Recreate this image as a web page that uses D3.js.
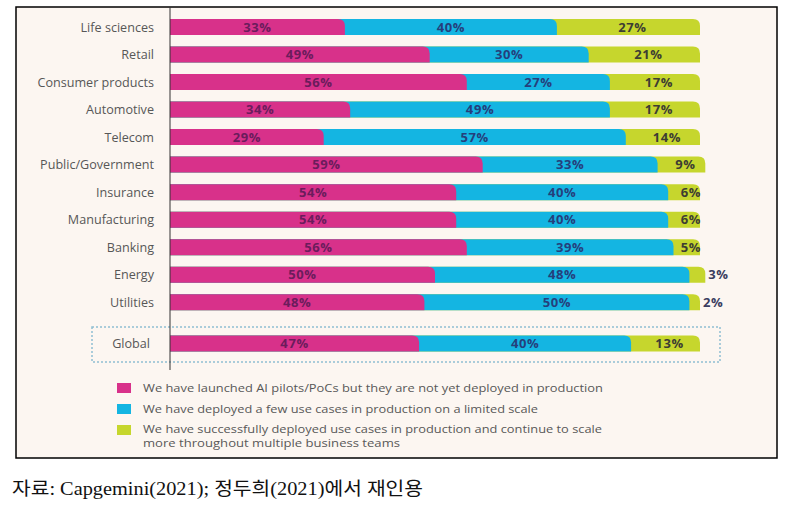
<!DOCTYPE html>
<html>
<head>
<meta charset="utf-8">
<script src="https://cdn.jsdelivr.net/npm/d3@7"></script>
<style>
  html, body { margin: 0; padding: 0; background: #ffffff; }
  svg { display: block; }
</style>
</head>
<body>
<svg id="chart" width="788" height="510"></svg>
<script>
// ---- data ----
const categories = ["Life sciences", "Retail", "Consumer products", "Automotive", "Telecom",
  "Public/Government", "Insurance", "Manufacturing", "Banking", "Energy", "Utilities", "Global"];
const pilots   = [33, 49, 56, 34, 29, 59, 54, 54, 56, 50, 48, 47];
const limited  = [40, 30, 27, 49, 57, 33, 40, 40, 39, 48, 50, 40];
const scaled   = [27, 21, 17, 17, 14,  9,  6,  6,  5,  3,  2, 13];
const rowIndex = [0, 1, 2, 3, 4, 5, 6, 7, 8, 9, 10, 11.5];
const legendLabels = [
  ["We have launched AI pilots/PoCs but they are not yet deployed in production"],
  ["We have deployed a few use cases in production on a limited scale"],
  ["We have successfully deployed use cases in production and continue to scale",
   "more throughout multiple business teams"]
];
const legendWidths = [[460], [395], [459, 257]];
const caption = "자료: Capgemini(2021); 정두희(2021)에서 재인용";

// ---- styles ----
const colors = ["#d8318a", "#14b5e2", "#c6d62d"];
const textColors = ["#6b1c5c", "#253f7c", "#3d3d33"];

const svg = d3.select("#chart");

// frame
svg.append("rect").attr("x", 16).attr("y", 7).attr("width", 761).attr("height", 451)
  .attr("fill", "#fcf6f1").attr("stroke", "#000").attr("stroke-width", 1.5);

const x = d3.scaleLinear().domain([0, 100]).range([170, 700]);
const y = d3.scaleLinear().domain([0, 11.5]).range([27, 343.5]);
const barH = 16;
const r = 7;

// dashed box around Global
svg.append("rect").attr("x", 92).attr("y", 327).attr("width", 628).attr("height", 35)
  .attr("fill", "none").attr("stroke", "#8fbfd2").attr("stroke-width", 1.5)
  .attr("stroke-dasharray", "2,2");

function roundRight(x0, x1, yc) {
  const top = yc - barH / 2, bot = yc + barH / 2;
  const rr = Math.min(r, x1 - x0);
  return `M${x0},${top} L${x1 - rr},${top} Q${x1},${top} ${x1},${top + rr} L${x1},${bot} L${x0},${bot} Z`;
}

const rows = categories.map((c, i) => ({
  cat: c, yc: y(rowIndex[i]), vals: [pilots[i], limited[i], scaled[i]]
}));

const g = svg.append("g");
rows.forEach(d => {
  const cum = [d.vals[0], d.vals[0] + d.vals[1], d.vals[0] + d.vals[1] + d.vals[2]];
  for (let k = 2; k >= 0; k--) {
    g.append("path").attr("d", roundRight(x(0), x(cum[k]), d.yc)).attr("fill", colors[k]);
  }
  const starts = [0, cum[0], cum[1]];
  for (let k = 0; k < 3; k++) {
    const v = d.vals[k];
    let tx, anchor = "middle", fill = textColors[k];
    const mid = (x(starts[k]) + x(cum[k])) / 2;
    if (k < 2) { tx = mid; }
    else if (v >= 9) { tx = mid + 4; }
    else if (v >= 5) { tx = x(cum[k]) + 1; anchor = "end"; }
    else { tx = x(cum[k]) + 3; anchor = "start"; fill = "#3a3d60"; }
    g.append("text").attr("x", tx).attr("y", d.yc).attr("dy", "0.36em")
      .attr("text-anchor", anchor).attr("fill", fill)
      .attr("font-family", "'Open Sans', sans-serif").attr("font-weight", "bold")
      .attr("font-size", 13).attr("letter-spacing", 0.6).text(v + "%");
  }
  svg.append("text").attr("x", d.cat === "Global" ? 150 : 154).attr("y", d.yc).attr("dy", "0.36em")
    .attr("text-anchor", "end").attr("fill", "#575757")
    .attr("font-family", "'Open Sans', sans-serif").attr("font-size", 12.6)
    .text(d.cat);
});

// axis line
svg.append("line").attr("x1", 170).attr("x2", 170).attr("y1", 7).attr("y2", 370)
  .attr("stroke", "#333").attr("stroke-width", 1);

// legend
const legendY = [388, 409, 429];
legendLabels.forEach((lines, i) => {
  svg.append("rect").attr("x", 117).attr("y", (i === 2 ? 430 : legendY[i]) - 5)
    .attr("width", 14).attr("height", 10).attr("fill", colors[i]);
  lines.forEach((line, j) => {
    svg.append("text").attr("x", 143).attr("y", legendY[i] + j * 14).attr("dy", "0.36em")
      .attr("fill", "#585858").attr("font-family", "'Open Sans', sans-serif")
      .attr("font-size", i === 2 ? 10.5 : 11.5)
      .attr("textLength", legendWidths[i][j]).attr("lengthAdjust", "spacingAndGlyphs")
      .text(line);
  });
});

// caption
svg.append("text").attr("x", 12).attr("y", 495)
  .attr("font-family", "'Liberation Serif', 'Noto Sans CJK KR', serif")
  .attr("font-size", 18).attr("fill", "#111")
  .attr("textLength", 411).attr("lengthAdjust", "spacingAndGlyphs")
  .text(caption);
</script>
</body>
</html>
